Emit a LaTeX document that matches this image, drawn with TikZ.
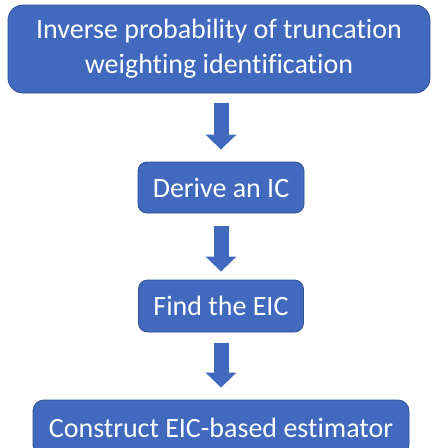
\documentclass[tikz,border=0pt]{standalone}
\usepackage{fontspec}
\setmainfont{Carlito}[Ligatures={NoCommon,NoRequired,NoContextual}]
\usetikzlibrary{arrows.meta}
\definecolor{boxfill}{RGB}{65,105,190}
\definecolor{boxline}{RGB}{47,82,143}
\tikzset{
  stepbox/.style={draw=boxline, line width=0.8pt, fill=boxfill, text=white,
    rounded corners=9pt, align=center, inner sep=0pt,
    font=\fontsize{28}{35}\selectfont},
  flowarrow/.style={draw=boxfill, line width=15pt,
    -{Triangle[width=30pt,length=15pt]}}
}
\begin{document}
\begin{tikzpicture}[x=1pt,y=-1pt]
  \clip (0,0) rectangle (432,448);
  \fill[white] (0,0) rectangle (432,448);

  \node[stepbox, rounded corners=15pt, minimum width=422pt, minimum height=88pt]
    (ipw) at (219,49) {Inverse probability of truncation\\weighting identification};
  \node[stepbox, minimum width=166pt, minimum height=51pt]
    (derive) at (221,187.5) {Derive an IC};
  \node[stepbox, minimum width=165pt, minimum height=52pt]
    (find) at (221,306) {Find the EIC};
  \node[stepbox, rounded corners=11pt, minimum width=376pt, minimum height=56pt]
    (construct) at (221,428) {Construct EIC-based estimator};

  \draw[flowarrow, shorten <=10pt, shorten >=12pt] (ipw.south -| derive.north) -- (derive.north);
  \draw[flowarrow, shorten <=13pt, shorten >=8pt] (derive.south) -- (find.north);
  \draw[flowarrow, shorten <=11pt, shorten >=12pt] (find.south) -- (construct.north);
\end{tikzpicture}
\end{document}
